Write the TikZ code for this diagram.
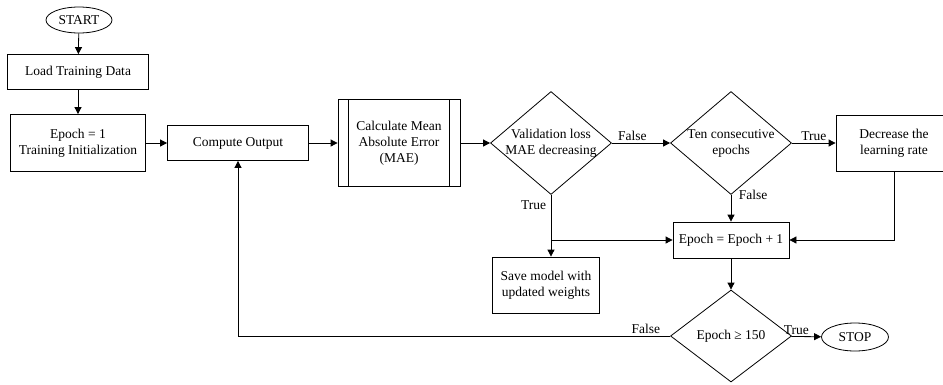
\documentclass[tikz,border=0pt]{standalone}
\usepackage{fontspec}
\setmainfont{Liberation Serif}
\usetikzlibrary{shapes.geometric,arrows.meta,calc}
\begin{document}
\begin{tikzpicture}[x=1pt,y=-1pt, font=\fontsize{13.5}{16}\selectfont,
 box/.style={draw, rectangle, inner sep=0pt, align=center, line width=0.8pt},
 dia/.style={draw, diamond, inner sep=0pt, line width=0.8pt},
 term/.style={draw, ellipse, inner sep=0pt, line width=0.8pt},
 arr/.style={-{Triangle[length=7pt,width=7pt]}, line width=0.8pt},
 plain/.style={line width=0.8pt},
 lbl/.style={inner sep=1.5pt}]
\clip (0,0) rectangle (943,384);
\node[term, minimum width=66pt, minimum height=26pt] (start) at (79,20) {START};
\node[box, minimum width=141pt, minimum height=35pt] (load) at (78,72) {Load Training Data};
\node[box, minimum width=135pt, minimum height=57pt] (init) at (78,143) {Epoch = 1\\Training Initialization};
\node[box, minimum width=141pt, minimum height=35pt] (comp) at (238,143) {Compute Output};
\node[box, minimum width=122pt, minimum height=87pt] (mae) at (399,143) {Calculate Mean\\Absolute Error\\(MAE)};
\draw[plain] ($(mae.north west)+(11,0)$) -- ($(mae.south west)+(11,0)$);
\draw[plain] ($(mae.north east)+(-11,0)$) -- ($(mae.south east)+(-11,0)$);
\node[dia, minimum width=121pt, minimum height=103pt, label={[align=center]center:Validation loss\\MAE decreasing}] (val) at (551,143) {};
\node[dia, minimum width=121pt, minimum height=103pt, label={[align=center]center:Ten consecutive\\epochs}] (ten) at (731,143) {};
\node[box, minimum width=116pt, minimum height=56pt] (dec) at (894,143) {Decrease the\\learning rate};
\node[box, minimum width=116pt, minimum height=36pt] (inc) at (731,240) {Epoch = Epoch + 1};
\node[box, minimum width=107pt, minimum height=56pt] (save) at (546,285) {Save model with\\updated weights};
\node[dia, minimum width=121pt, minimum height=92pt, label={center:Epoch ≥ 150}] (chk) at (731,336) {};
\node[term, minimum width=67pt, minimum height=28pt] (stop) at (855,337) {STOP};
\draw[arr] (start) -- (load);
\draw[arr] (load) -- (init);
\draw[arr] (init) -- (comp);
\draw[arr] (comp) -- (mae);
\draw[arr] (mae) -- (val);
\draw[arr] (val) -- node[lbl, above, pos=0.35]{False} (ten);
\draw[arr] (ten) -- node[lbl, above]{True} (dec);
\draw[arr] (ten) -- node[lbl, anchor=west, pos=0, xshift=6pt]{False} (inc);
\draw[arr] (val.south) -- node[lbl, anchor=east, pos=0.16, xshift=-3pt]{True} (val.south |- save.north);
\coordinate (j) at (val.south |- inc.west);
\draw[arr] (j) -- (inc.west);
\draw[arr] (dec.south) |- (inc.east);
\draw[arr] (inc) -- (chk);
\draw[arr] (chk) -- node[lbl, above, pos=0.17]{True} (stop);
\draw[arr] (chk.west) -- node[lbl, above left, pos=0, xshift=-8pt]{False} (comp.south |- chk.west) -- (comp.south);
\end{tikzpicture}
\end{document}
